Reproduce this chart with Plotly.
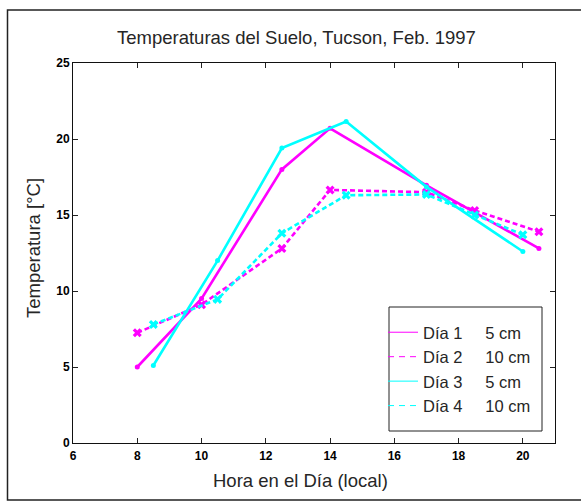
import plotly.graph_objects as go

# ---------------- data ----------------
dia1_x = [8, 10, 12.5, 14, 17, 20.5]
dia1_y = [5.0, 9.5, 18.0, 20.7, 16.95, 12.8]

dia2_x = [8, 10, 12.5, 14, 17, 18.5, 20.5]
dia2_y = [7.25, 9.1, 12.8, 16.65, 16.5, 15.3, 13.9]

dia3_x = [8.5, 10.5, 12.5, 14.5, 17, 20]
dia3_y = [5.1, 12.0, 19.4, 21.15, 16.85, 12.6]

dia4_x = [8.5, 10.5, 12.5, 14.5, 17, 18.5, 20]
dia4_y = [7.8, 9.45, 13.8, 16.3, 16.35, 15.0, 13.7]

NB = "\u00a0" * 5
legend_labels = ["Día 1" + NB + "5 cm", "Día 2" + NB + "10 cm",
                 "Día 3" + NB + "5 cm", "Día 4" + NB + "10 cm"]
x_ticks = [6, 8, 10, 12, 14, 16, 18, 20]
y_ticks = [0, 5, 10, 15, 20, 25]

title_text = "Temperaturas del Suelo, Tucson, Feb. 1997"
x_title = "Hora en el Día (local)"
y_title = "Temperatura [°C]"

# ---------------- layout geometry ----------------
W, H = 581, 501
L, R, T, B = 73, 26, 63, 58
PW = W - L - R
PH = H - T - B


def px_x(p):
    return (p - L) / PW


def px_y(p):
    return (H - B - p) / PH


MAG = "#FF00FF"
CYA = "#00FFFF"
LW = 2.6
DASH = "5px,3px"
FONT = "Liberation Sans, Arial, sans-serif"

fig = go.Figure()

series = [
    (dia1_x, dia1_y, MAG, "solid", "circle", 5),
    (dia2_x, dia2_y, MAG, DASH, "x", 8),
    (dia3_x, dia3_y, CYA, "solid", "circle", 5),
    (dia4_x, dia4_y, CYA, DASH, "x", 8),
]
for (xs, ys, col, dash, sym, ms) in series:
    fig.add_trace(go.Scatter(
        x=xs, y=ys, mode="lines+markers", showlegend=False,
        line=dict(color=col, width=LW, dash=dash),
        marker=dict(color=col, symbol=sym, size=ms, line=dict(width=0)),
    ))

# thin legend samples
for lab, (xs, ys, col, dash, sym, ms) in zip(legend_labels, series):
    fig.add_trace(go.Scatter(
        x=[None], y=[None], mode="lines", name=lab,
        line=dict(color=col, width=1, dash="solid" if dash == "solid" else "6px,5px"),
    ))

fig.update_layout(
    width=W, height=H,
    margin=dict(l=L, r=R, t=T, b=B),
    paper_bgcolor="white", plot_bgcolor="white",
    font=dict(family=FONT, color="#262626"),
    showlegend=True,
    legend=dict(
        x=px_x(383), y=px_y(315), xanchor="left", yanchor="top",
        bgcolor="rgba(0,0,0,0)", borderwidth=0,
        font=dict(size=16.5, color="#262626"),
        itemwidth=30, tracegroupgap=0,
    ),
    xaxis=dict(
        range=[6, 21], tickvals=x_ticks, ticks="inside", ticklen=5,
        tickcolor="#222", showline=True, linecolor="#111", linewidth=1,
        mirror="ticks", showgrid=False, zeroline=False, ticklabelstandoff=2,
        tickfont=dict(family=FONT, size=12, color="black", weight="bold"),
    ),
    yaxis=dict(
        range=[0, 25], tickvals=y_ticks, ticks="inside", ticklen=5,
        tickcolor="#222", showline=True, linecolor="#111", linewidth=1,
        mirror="ticks", showgrid=False, zeroline=False,
        tickfont=dict(family=FONT, size=12, color="black", weight="bold"),
    ),
    shapes=[
        # outer figure frame
        dict(type="rect", xref="paper", yref="paper",
             x0=px_x(7.5), x1=px_x(600), y0=px_y(500), y1=px_y(10),
             line=dict(color="#222", width=1.5), fillcolor="rgba(0,0,0,0)", layer="below"),
        # legend box
        dict(type="rect", xref="paper", yref="paper",
             x0=px_x(389), x1=px_x(542), y0=px_y(431), y1=px_y(307),
             line=dict(color="#222", width=1), fillcolor="white", layer="above"),
    ],
    annotations=[
        dict(text=title_text, xref="paper", yref="paper", x=px_x(296), y=px_y(37),
             xanchor="center", yanchor="middle", showarrow=False,
             font=dict(size=18.5, color="#262626")),
        dict(text=x_title, xref="paper", yref="paper", x=px_x(300), y=px_y(480),
             xanchor="center", yanchor="middle", showarrow=False,
             font=dict(size=18.5, color="#262626")),
        dict(text=y_title, xref="paper", yref="paper", x=px_x(34), y=px_y(248),
             xanchor="center", yanchor="middle", showarrow=False, textangle=-90,
             font=dict(size=18.5, color="#262626")),
    ],
)

fig.write_html("out.html")
